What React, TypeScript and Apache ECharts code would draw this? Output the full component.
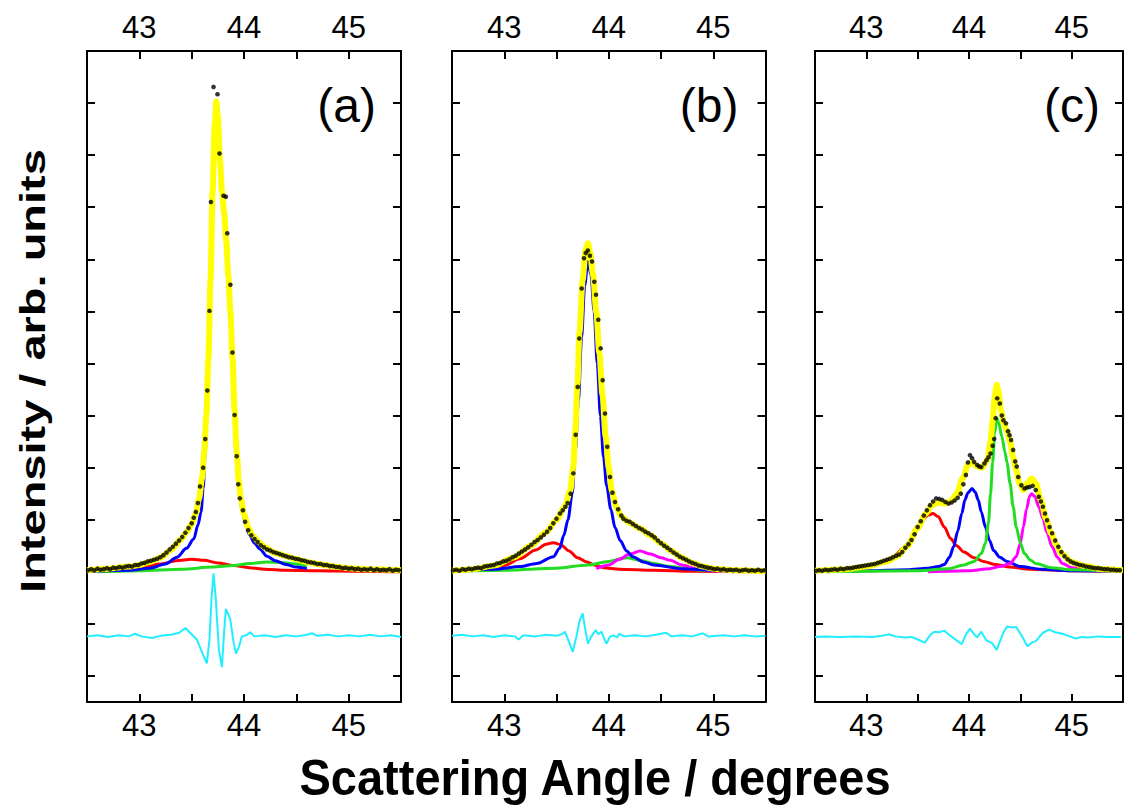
import React, { useEffect, useRef } from 'react';
import * as echarts from 'echarts';

type Pt = [number, number];

// ---------- axes ----------
const X_MIN = 42.5;
const X_MAX = 45.5;
const X_STEP = 0.5;
const xTickLabels = [43, 44, 45];
const Y_TOP = 10; // intensity (tick units) at the top frame
const Y_BOTTOM = -2.5; // intensity at the bottom frame
const panelLabels = ['(a)', '(b)', '(c)'];
const xTitle = 'Scattering Angle / degrees';
const yTitle = 'Intensity / arb. units';

// ---------- panel (a) ----------
const aDots: Pt[] = [
  [42.51, 0.03], [42.54, 0.05], [42.57, 0.03], [42.6, 0.06], [42.63, 0.04], [42.66, 0.05], [42.69, 0.07],
  [42.72, 0.05], [42.75, 0.08], [42.78, 0.07], [42.81, 0.09], [42.84, 0.08], [42.87, 0.1], [42.9, 0.11],
  [42.93, 0.1], [42.96, 0.13], [42.99, 0.13], [43.02, 0.16], [43.05, 0.17], [43.08, 0.2], [43.11, 0.21],
  [43.14, 0.23], [43.17, 0.25], [43.2, 0.28], [43.23, 0.32], [43.26, 0.37], [43.29, 0.43], [43.32, 0.48],
  [43.35, 0.54], [43.38, 0.6], [43.41, 0.67], [43.44, 0.75], [43.47, 0.84], [43.5, 0.93], [43.52, 1.04],
  [43.54, 1.15], [43.56, 1.32], [43.58, 1.64], [43.61, 2.0], [43.63, 2.55], [43.65, 3.48], [43.67, 5.01],
  [43.684, 7.1], [43.709, 9.31], [43.747, 9.17], [43.766, 8.03], [43.804, 7.22], [43.827, 7.2], [43.84, 6.5],
  [43.87, 5.51], [43.89, 4.21], [43.91, 3.01], [43.93, 2.22], [43.945, 1.68], [43.96, 1.41], [43.99, 1.18],
  [44.01, 0.96], [44.04, 0.8], [44.07, 0.7], [44.1, 0.63], [44.13, 0.57], [44.16, 0.51], [44.19, 0.47],
  [44.22, 0.43], [44.25, 0.41], [44.28, 0.38], [44.31, 0.36], [44.34, 0.34], [44.37, 0.32], [44.4, 0.3],
  [44.43, 0.28], [44.46, 0.27], [44.49, 0.25], [44.52, 0.24], [44.55, 0.22], [44.58, 0.21], [44.61, 0.19],
  [44.64, 0.18], [44.67, 0.17], [44.7, 0.15], [44.73, 0.15], [44.76, 0.13], [44.79, 0.13], [44.82, 0.11],
  [44.85, 0.11], [44.88, 0.09], [44.91, 0.09], [44.94, 0.07], [44.97, 0.08], [45.0, 0.06], [45.03, 0.07],
  [45.06, 0.05], [45.09, 0.06], [45.12, 0.04], [45.15, 0.05], [45.18, 0.04], [45.21, 0.06], [45.24, 0.03],
  [45.27, 0.05], [45.3, 0.03], [45.33, 0.04], [45.36, 0.03], [45.39, 0.05], [45.42, 0.02], [45.45, 0.04],
  [45.48, 0.03],
];
const aFit: Pt[] = [
  [42.5, 0.03], [42.7, 0.06], [42.9, 0.1], [43.0, 0.13], [43.1, 0.19], [43.2, 0.27], [43.3, 0.42], [43.4, 0.63],
  [43.45, 0.76], [43.5, 0.92], [43.54, 1.12], [43.57, 1.4], [43.6, 1.8], [43.62, 2.3], [43.64, 3.0], [43.66, 4.1],
  [43.68, 5.6], [43.7, 7.3], [43.72, 8.6], [43.735, 9.03], [43.75, 8.75], [43.77, 7.9], [43.79, 7.3], [43.81, 6.9],
  [43.83, 6.35], [43.85, 5.7], [43.87, 5.0], [43.89, 4.1], [43.91, 3.1], [43.93, 2.3], [43.95, 1.75], [43.97, 1.4],
  [44.0, 1.1], [44.04, 0.85], [44.08, 0.7], [44.14, 0.57], [44.2, 0.47], [44.3, 0.36], [44.4, 0.3], [44.5, 0.24],
  [44.6, 0.19], [44.7, 0.15], [44.8, 0.12], [44.9, 0.09], [45.0, 0.07], [45.2, 0.05], [45.5, 0.03],
];
const aBlue: Pt[] = [
  [42.55, 0.01], [42.9, 0.03], [43.1, 0.07], [43.25, 0.15], [43.36, 0.28], [43.45, 0.45], [43.52, 0.63],
  [43.56, 0.9], [43.59, 1.15], [43.61, 1.6], [43.63, 2.3], [43.65, 3.3], [43.67, 4.6], [43.69, 6.3], [43.71, 8.0],
  [43.735, 8.95], [43.75, 8.65], [43.77, 7.8], [43.79, 7.2], [43.81, 6.8], [43.83, 6.25], [43.85, 5.6],
  [43.87, 4.9], [43.89, 4.0], [43.91, 3.0], [43.93, 2.2], [43.95, 1.65], [43.98, 1.2], [44.01, 0.95],
  [44.05, 0.72], [44.1, 0.55], [44.15, 0.44], [44.22, 0.3], [44.3, 0.21], [44.4, 0.14], [44.5, 0.09], [44.6, 0.06],
];
const aRed: Pt[] = [
  [42.5, 0.01], [42.7, 0.03], [42.9, 0.06], [43.05, 0.1], [43.2, 0.15], [43.35, 0.21], [43.5, 0.24], [43.62, 0.22],
  [43.75, 0.17], [43.9, 0.12], [44.05, 0.08], [44.2, 0.05], [44.4, 0.03], [44.7, 0.02], [45.1, 0.01], [45.5, 0.0],
];
const aGreen: Pt[] = [
  [42.6, 0.0], [43.0, 0.02], [43.4, 0.05], [43.7, 0.09], [43.9, 0.12], [44.05, 0.16], [44.22, 0.19], [44.35, 0.18],
  [44.5, 0.15], [44.6, 0.11],
];
const aResid: Pt[] = [
  [42.5, -1.24], [42.6, -1.22], [42.7, -1.25], [42.8, -1.22], [42.9, -1.24], [42.96, -1.19], [43.02, -1.24],
  [43.12, -1.27], [43.2, -1.23], [43.3, -1.21], [43.38, -1.17], [43.44, -1.08], [43.48, -1.16], [43.55, -1.3],
  [43.6, -1.55], [43.645, -1.76], [43.67, -1.3], [43.69, -0.5], [43.709, -0.03], [43.73, -0.5], [43.76, -1.5],
  [43.789, -1.83], [43.81, -1.15], [43.827, -0.71], [43.85, -0.82], [43.868, -0.9], [43.9, -1.35],
  [43.923, -1.57], [43.95, -1.45], [43.98, -1.24], [44.02, -1.22], [44.06, -1.16], [44.1, -1.24],
  [44.2, -1.22], [44.3, -1.25], [44.4, -1.22], [44.5, -1.24], [44.6, -1.21], [44.65, -1.18], [44.7, -1.23],
  [44.8, -1.21], [44.9, -1.24], [45.0, -1.22], [45.1, -1.24], [45.2, -1.21], [45.3, -1.24], [45.4, -1.22],
  [45.5, -1.25],
];

// ---------- panel (b) ----------
const bDots: Pt[] = [
  [42.51, 0.03], [42.54, 0.04], [42.57, 0.02], [42.6, 0.05], [42.63, 0.04], [42.66, 0.06], [42.69, 0.05],
  [42.72, 0.07], [42.75, 0.08], [42.78, 0.07], [42.81, 0.1], [42.84, 0.11], [42.87, 0.12], [42.9, 0.13],
  [42.93, 0.16], [42.96, 0.17], [42.99, 0.2], [43.02, 0.21], [43.05, 0.24], [43.08, 0.28], [43.11, 0.31],
  [43.14, 0.35], [43.17, 0.39], [43.2, 0.43], [43.23, 0.47], [43.26, 0.52], [43.29, 0.57], [43.32, 0.61],
  [43.35, 0.66], [43.38, 0.71], [43.41, 0.77], [43.44, 0.84], [43.47, 0.93], [43.5, 1.02], [43.533, 1.12],
  [43.56, 1.18], [43.585, 1.25], [43.607, 1.32], [43.635, 1.5], [43.661, 1.89], [43.684, 2.63], [43.703, 3.55],
  [43.718, 4.48], [43.741, 5.44], [43.763, 6.02], [43.78, 6.12], [43.8, 6.17], [43.82, 6.07], [43.84, 5.96],
  [43.862, 5.57], [43.878, 5.32], [43.9, 4.84], [43.923, 4.29], [43.942, 3.68], [43.964, 3.04], [43.986, 2.4],
  [44.012, 1.82], [44.035, 1.52], [44.06, 1.34], [44.09, 1.2], [44.12, 1.08], [44.14, 1.02], [44.17, 0.98],
  [44.2, 0.96], [44.23, 0.92], [44.26, 0.88], [44.29, 0.84], [44.32, 0.81], [44.35, 0.77], [44.38, 0.74],
  [44.41, 0.7], [44.44, 0.66], [44.47, 0.6], [44.5, 0.55], [44.53, 0.5], [44.56, 0.46], [44.59, 0.42],
  [44.62, 0.37], [44.65, 0.33], [44.68, 0.29], [44.71, 0.26], [44.74, 0.23], [44.77, 0.2], [44.8, 0.17],
  [44.83, 0.15], [44.86, 0.12], [44.89, 0.11], [44.92, 0.09], [44.95, 0.08], [44.98, 0.07], [45.01, 0.05],
  [45.04, 0.06], [45.07, 0.04], [45.1, 0.05], [45.13, 0.03], [45.16, 0.04], [45.19, 0.03], [45.22, 0.04],
  [45.25, 0.02], [45.28, 0.03], [45.31, 0.04], [45.34, 0.02], [45.37, 0.03], [45.4, 0.02], [45.43, 0.04],
  [45.46, 0.02], [45.49, 0.03],
];
const bFit: Pt[] = [
  [42.5, 0.02], [42.7, 0.05], [42.9, 0.12], [43.1, 0.28], [43.25, 0.5], [43.4, 0.76], [43.5, 1.0], [43.58, 1.25],
  [43.63, 1.55], [43.66, 2.0], [43.68, 2.7], [43.7, 3.6], [43.72, 4.6], [43.75, 5.6], [43.78, 6.2], [43.8, 6.31],
  [43.82, 6.15], [43.85, 5.7], [43.88, 5.0], [43.91, 4.2], [43.94, 3.4], [43.97, 2.6], [44.0, 2.0], [44.03, 1.55],
  [44.07, 1.25], [44.12, 1.06], [44.2, 0.94], [44.3, 0.83], [44.4, 0.7], [44.5, 0.55], [44.6, 0.4], [44.7, 0.27],
  [44.8, 0.17], [44.9, 0.1], [45.0, 0.06], [45.2, 0.03], [45.5, 0.01],
];
const bBlue: Pt[] = [
  [42.5, 0.02], [42.9, 0.05], [43.15, 0.1], [43.31, 0.16], [43.47, 0.29], [43.53, 0.45], [43.57, 0.7],
  [43.61, 1.0], [43.65, 1.5], [43.68, 2.3], [43.71, 3.3], [43.74, 4.5], [43.77, 5.5], [43.8, 5.96], [43.83, 5.7],
  [43.86, 5.0], [43.89, 4.0], [43.92, 3.0], [43.95, 2.2], [43.98, 1.65], [44.02, 1.2], [44.06, 0.85], [44.11, 0.6],
  [44.17, 0.4], [44.23, 0.29], [44.33, 0.19], [44.43, 0.13], [44.7, 0.06], [45.0, 0.03], [45.5, 0.01],
];
const bRed: Pt[] = [
  [42.5, 0.02], [42.83, 0.06], [43.0, 0.12], [43.15, 0.25], [43.3, 0.42], [43.4, 0.53], [43.47, 0.56],
  [43.54, 0.52], [43.62, 0.4], [43.7, 0.27], [43.79, 0.19], [43.88, 0.12], [43.95, 0.08], [44.1, 0.05],
  [44.43, 0.03], [44.8, 0.01], [45.5, 0.0],
];
const bGreen: Pt[] = [
  [42.5, 0.01], [43.0, 0.03], [43.5, 0.07], [43.8, 0.13], [44.0, 0.2], [44.17, 0.27], [44.3, 0.22], [44.43, 0.16],
  [44.55, 0.11], [44.68, 0.08], [44.9, 0.03], [45.2, 0.01], [45.5, 0.0],
];
const bMagenta: Pt[] = [
  [43.88, 0.06], [44.0, 0.13], [44.1, 0.24], [44.2, 0.34], [44.3, 0.4], [44.4, 0.34], [44.5, 0.27],
  [44.59, 0.22], [44.7, 0.13], [44.84, 0.06], [45.0, 0.02], [45.2, 0.0],
];
const bResid: Pt[] = [
  [42.5, -1.23], [42.6, -1.21], [42.7, -1.24], [42.8, -1.22], [42.9, -1.25], [43.0, -1.22], [43.1, -1.24],
  [43.14, -1.3], [43.18, -1.22], [43.3, -1.24], [43.4, -1.21], [43.5, -1.23], [43.55, -1.2], [43.58, -1.15],
  [43.62, -1.35], [43.655, -1.54], [43.69, -1.25], [43.72, -0.95], [43.75, -0.8], [43.775, -1.1],
  [43.8, -1.38], [43.83, -1.25], [43.875, -1.12], [43.9, -1.2], [43.93, -1.15], [43.96, -1.3], [43.98, -1.38],
  [44.01, -1.25], [44.04, -1.22], [44.08, -1.26], [44.1, -1.19], [44.15, -1.24], [44.25, -1.22], [44.35, -1.24],
  [44.45, -1.21], [44.55, -1.17], [44.6, -1.24], [44.7, -1.22], [44.8, -1.24], [44.9, -1.18], [44.95, -1.24],
  [45.1, -1.22], [45.2, -1.24], [45.3, -1.22], [45.4, -1.24], [45.5, -1.23],
];

// ---------- panel (c) ----------
const cDots: Pt[] = [
  [42.51, 0.02], [42.54, 0.03], [42.57, 0.02], [42.6, 0.04], [42.63, 0.03], [42.66, 0.04], [42.69, 0.05],
  [42.72, 0.04], [42.75, 0.06], [42.78, 0.05], [42.81, 0.07], [42.84, 0.07], [42.87, 0.08], [42.9, 0.09],
  [42.93, 0.1], [42.96, 0.11], [42.99, 0.12], [43.02, 0.13], [43.05, 0.14], [43.08, 0.15], [43.11, 0.17],
  [43.14, 0.19], [43.17, 0.21], [43.2, 0.23], [43.23, 0.25], [43.26, 0.28], [43.29, 0.31], [43.32, 0.33],
  [43.35, 0.38], [43.38, 0.46], [43.41, 0.53], [43.44, 0.61], [43.47, 0.72], [43.5, 0.86], [43.53, 0.97],
  [43.56, 1.08], [43.59, 1.18], [43.62, 1.28], [43.65, 1.35], [43.68, 1.41], [43.71, 1.4], [43.74, 1.38],
  [43.77, 1.34], [43.8, 1.31], [43.83, 1.33], [43.86, 1.37], [43.89, 1.42], [43.92, 1.5], [43.945, 1.68],
  [43.97, 1.86], [43.99, 2.1], [44.01, 2.24], [44.03, 2.18], [44.05, 2.11], [44.08, 2.05], [44.1, 2.02],
  [44.12, 2.01], [44.15, 2.08], [44.17, 2.14], [44.19, 2.2], [44.21, 2.27], [44.23, 2.42], [44.245, 2.55],
  [44.26, 2.95], [44.275, 3.33], [44.3, 3.23], [44.32, 3.0], [44.335, 2.91], [44.36, 2.85], [44.38, 2.7],
  [44.395, 2.62], [44.41, 2.53], [44.43, 2.34], [44.45, 2.12], [44.465, 2.02], [44.48, 1.82], [44.51, 1.66],
  [44.54, 1.6], [44.565, 1.62], [44.59, 1.63], [44.62, 1.65], [44.65, 1.57], [44.68, 1.44], [44.7, 1.35],
  [44.72, 1.25], [44.74, 1.12], [44.76, 0.99], [44.785, 0.86], [44.81, 0.74], [44.84, 0.6], [44.87, 0.48],
  [44.9, 0.38], [44.93, 0.3], [44.96, 0.24], [44.99, 0.2], [45.02, 0.17], [45.05, 0.15], [45.08, 0.13],
  [45.11, 0.12], [45.14, 0.1], [45.17, 0.09], [45.2, 0.08], [45.23, 0.07], [45.26, 0.07], [45.29, 0.06],
  [45.32, 0.05], [45.35, 0.05], [45.38, 0.04], [45.41, 0.04], [45.44, 0.03], [45.47, 0.03],
];
const cFit: Pt[] = [
  [42.5, 0.02], [42.8, 0.05], [43.0, 0.1], [43.2, 0.2], [43.3, 0.3], [43.4, 0.5], [43.5, 0.84], [43.58, 1.12],
  [43.64, 1.28], [43.7, 1.33], [43.76, 1.31], [43.82, 1.35], [43.88, 1.5], [43.94, 1.8], [43.99, 2.05],
  [44.03, 2.1], [44.08, 2.02], [44.13, 2.0], [44.18, 2.15], [44.21, 2.5], [44.23, 2.9], [44.25, 3.35],
  [44.27, 3.59], [44.29, 3.45], [44.31, 3.1], [44.34, 2.85], [44.37, 2.7], [44.4, 2.5], [44.43, 2.2],
  [44.46, 1.95], [44.49, 1.7], [44.53, 1.57], [44.57, 1.7], [44.61, 1.79], [44.65, 1.7], [44.7, 1.38],
  [44.75, 1.02], [44.8, 0.74], [44.85, 0.52], [44.9, 0.35], [45.0, 0.19], [45.1, 0.12], [45.3, 0.05],
  [45.5, 0.03],
];
const cRed: Pt[] = [
  [42.5, 0.02], [42.8, 0.05], [43.0, 0.1], [43.12, 0.16], [43.25, 0.27], [43.38, 0.48], [43.45, 0.67],
  [43.5, 0.86], [43.56, 1.02], [43.6, 1.09], [43.65, 1.12], [43.7, 1.06], [43.76, 0.86], [43.82, 0.64],
  [43.88, 0.5], [43.95, 0.38], [44.05, 0.27], [44.14, 0.2], [44.25, 0.14], [44.4, 0.09], [44.6, 0.05],
  [45.0, 0.02], [45.5, 0.01],
];
const cBlue: Pt[] = [
  [42.5, 0.0], [43.0, 0.02], [43.4, 0.04], [43.6, 0.07], [43.7, 0.1], [43.76, 0.14], [43.81, 0.28],
  [43.85, 0.48], [43.89, 0.78], [43.93, 1.12], [43.96, 1.38], [43.99, 1.52], [44.03, 1.6], [44.06, 1.53],
  [44.09, 1.38], [44.12, 1.15], [44.16, 0.86], [44.2, 0.6], [44.24, 0.41], [44.3, 0.28], [44.37, 0.2],
  [44.5, 0.1], [44.7, 0.05], [45.0, 0.02], [45.5, 0.01],
];
const cGreen: Pt[] = [
  [42.6, 0.0], [43.5, 0.02], [43.8, 0.06], [43.95, 0.13], [44.05, 0.2], [44.12, 0.35], [44.16, 0.55],
  [44.19, 0.95], [44.21, 1.5], [44.23, 2.1], [44.25, 2.65], [44.27, 2.95], [44.29, 2.85], [44.32, 2.6],
  [44.35, 2.3], [44.37, 2.1], [44.4, 1.7], [44.43, 1.25], [44.46, 0.86], [44.5, 0.55], [44.54, 0.35],
  [44.6, 0.22], [44.65, 0.16], [44.8, 0.08], [45.0, 0.04], [45.5, 0.01],
];
const cMagenta: Pt[] = [
  [43.6, 0.0], [44.0, 0.02], [44.2, 0.06], [44.3, 0.1], [44.4, 0.16], [44.46, 0.29], [44.5, 0.55],
  [44.53, 0.86], [44.56, 1.2], [44.59, 1.45], [44.61, 1.5], [44.64, 1.45], [44.68, 1.25], [44.72, 1.02],
  [44.76, 0.75], [44.81, 0.48], [44.86, 0.28], [44.91, 0.16], [45.0, 0.08], [45.2, 0.04], [45.5, 0.02],
];
const cResid: Pt[] = [
  [42.5, -1.25], [42.6, -1.24], [42.74, -1.25], [42.9, -1.24], [43.06, -1.25], [43.15, -1.23], [43.22, -1.2],
  [43.28, -1.24], [43.38, -1.26], [43.44, -1.25], [43.5, -1.3], [43.57, -1.36], [43.62, -1.22], [43.66, -1.15],
  [43.71, -1.16], [43.76, -1.13], [43.8, -1.2], [43.84, -1.26], [43.93, -1.39], [43.97, -1.2], [44.01, -1.09],
  [44.05, -1.2], [44.08, -1.26], [44.12, -1.15], [44.17, -1.32], [44.22, -1.36], [44.27, -1.5], [44.33, -1.19],
  [44.37, -1.05], [44.42, -1.07], [44.46, -1.06], [44.52, -1.25], [44.57, -1.43], [44.61, -1.36], [44.65, -1.33],
  [44.72, -1.17], [44.78, -1.11], [44.84, -1.16], [44.91, -1.19], [44.98, -1.24], [45.04, -1.28],
  [45.1, -1.25], [45.16, -1.26], [45.25, -1.24], [45.35, -1.25], [45.48, -1.25],
];

// ---------- colours ----------
const FIT_COLOR = '#ffff00';
const BLUE = '#0000ff';
const RED = '#ff0000';
const GREEN = '#22dd22';
const MAGENTA = '#ff00ff';
const CYAN = '#22eeff';
const FONT = '"Liberation Sans", Arial, Helvetica, sans-serif';

const panels = [
  { dots: aDots, fit: aFit, comps: [[aRed, RED], [aGreen, GREEN], [aBlue, BLUE]] as [Pt[], string][], resid: aResid },
  { dots: bDots, fit: bFit, comps: [[bRed, RED], [bGreen, GREEN], [bMagenta, MAGENTA], [bBlue, BLUE]] as [Pt[], string][], resid: bResid },
  { dots: cDots, fit: cFit, comps: [[cRed, RED], [cBlue, BLUE], [cMagenta, MAGENTA], [cGreen, GREEN]] as [Pt[], string][], resid: cResid },
];

const gridBoxes = [
  { left: 87, top: 51, width: 314, height: 651 },
  { left: 452, top: 51, width: 313.5, height: 651 },
  { left: 815, top: 51, width: 313, height: 651 },
];
const labelAnchors = [376, 738.5, 1100];

function App() {
  const ref = useRef<HTMLDivElement>(null);
  useEffect(() => {
    if (!ref.current) return;
    const chart = echarts.init(ref.current, null, { renderer: 'svg' });
    const toPlot = (d: Pt[]) => d.map(([x, y]) => [x, Y_TOP - y]);
    const lineCol = { color: '#000', width: 2 };
    const xFmt = (v: number) => {
      const r = Math.round(v);
      return Math.abs(v - r) < 1e-6 && xTickLabels.includes(r) ? String(r) : '';
    };
    const xAxes: any[] = [];
    const yAxes: any[] = [];
    gridBoxes.forEach((_, gi) => {
      ['bottom', 'top'].forEach((pos) => {
        xAxes.push({
          type: 'value', gridIndex: gi, position: pos, min: X_MIN, max: X_MAX, interval: X_STEP,
          axisLine: { show: true, onZero: false, lineStyle: lineCol },
          axisTick: { show: true, inside: true, length: 8, lineStyle: lineCol },
          axisLabel: { show: true, fontSize: 31, color: '#000', fontFamily: FONT, margin: 8, formatter: xFmt },
          splitLine: { show: false },
        });
      });
      ['left', 'right'].forEach((pos) => {
        yAxes.push({
          type: 'value', gridIndex: gi, position: pos, inverse: true,
          min: 0, max: Y_TOP - Y_BOTTOM, interval: 1,
          axisLine: { show: true, onZero: false, lineStyle: lineCol },
          axisTick: { show: true, inside: true, length: 8, lineStyle: lineCol },
          axisLabel: { show: false },
          splitLine: { show: false },
        });
      });
    });

    const series: any[] = [];
    panels.forEach((p, gi) => {
      const ax = { xAxisIndex: gi * 2, yAxisIndex: gi * 2 };
      p.comps.forEach(([d, col]) => {
        series.push({
          type: 'line', ...ax, data: toPlot(d), showSymbol: false, symbol: 'none',
          smooth: 0.3, smoothMonotone: 'x', lineStyle: { color: col, width: 3 }, z: 2, silent: true,
        });
      });
      series.push({
        type: 'line', ...ax, data: toPlot(p.fit), showSymbol: false, symbol: 'none',
        smooth: 0.3, smoothMonotone: 'x', lineStyle: { color: FIT_COLOR, width: 6 }, z: 3, silent: true,
      });
      series.push({
        type: 'line', ...ax, data: toPlot(p.resid), showSymbol: false, symbol: 'none',
        lineStyle: { color: CYAN, width: 2 }, z: 3, silent: true,
      });
      series.push({
        type: 'scatter', ...ax, data: toPlot(p.dots), symbol: 'circle', symbolSize: 4.6,
        itemStyle: { color: '#000' }, z: 4, silent: true,
      });
    });

    const graphics: any[] = [
      {
        type: 'text', x: 595, y: 777, scaleY: 1.08, silent: true,
        style: { text: xTitle, fontSize: 47, fontWeight: 'bold', fontFamily: FONT, fill: '#000', textAlign: 'center', textVerticalAlign: 'middle' },
      },
      {
        type: 'text', x: 33, y: 371, rotation: Math.PI / 2, scaleY: 0.74, silent: true,
        style: { text: yTitle, fontSize: 47, fontWeight: 'bold', fontFamily: FONT, fill: '#000', textAlign: 'center', textVerticalAlign: 'middle' },
      },
    ];
    panelLabels.forEach((t, i) => {
      graphics.push({
        type: 'text', x: labelAnchors[i], y: 105, silent: true,
        style: { text: t, fontSize: 48, fontFamily: FONT, fill: '#000', textAlign: 'right', textVerticalAlign: 'middle' },
      });
    });

    chart.setOption({
      animation: false,
      backgroundColor: '#fff',
      grid: gridBoxes.map((g) => ({ ...g, containLabel: false })),
      xAxis: xAxes,
      yAxis: yAxes,
      series,
      graphic: { elements: graphics },
    });
    return () => chart.dispose();
  }, []);
  return <div ref={ref} style={{ position: 'fixed', left: 0, top: 0, width: 1126, height: 809 }} />;
}

export default App;
